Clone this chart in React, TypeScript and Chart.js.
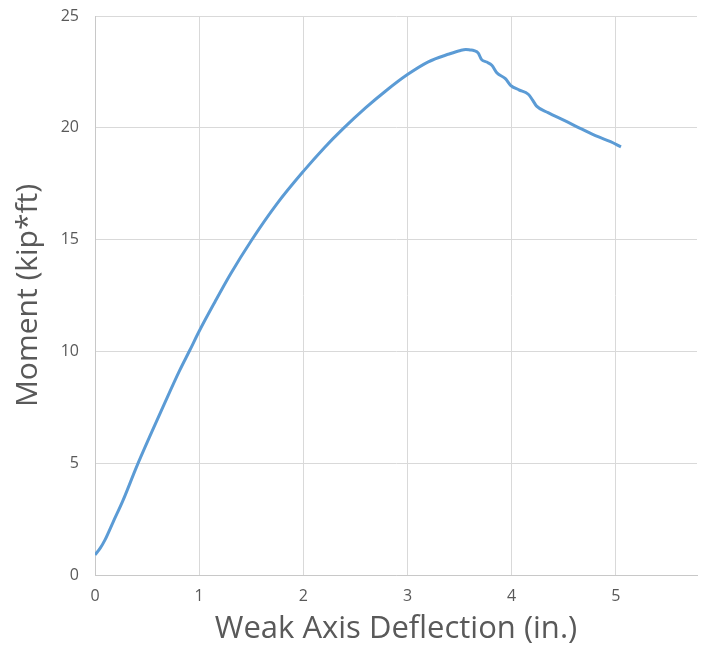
import React, { useEffect, useRef } from "react";
import { Chart, registerables } from "chart.js";

Chart.register(...registerables);

const deflection = [
  0, 0.05, 0.096, 0.175, 0.27, 0.4, 0.526, 0.654, 0.813, 0.91, 1.0, 1.15, 1.3, 1.5, 1.75,
  2.0, 2.2, 2.38, 2.6, 2.8, 3.0, 3.2, 3.4, 3.51, 3.56, 3.6, 3.64, 3.68, 3.71, 3.76, 3.81,
  3.86, 3.94, 3.99, 4.07, 4.16, 4.2, 4.24, 4.35, 4.51, 4.67, 4.83, 4.95, 5.05,
];
const moment = [
  0.9, 1.2, 1.57, 2.38, 3.35, 4.85, 6.2, 7.53, 9.15, 10.05, 10.9, 12.2, 13.45, 14.95, 16.62,
  18.05, 19.1, 19.95, 20.9, 21.68, 22.38, 22.95, 23.3, 23.46, 23.5, 23.48, 23.45, 23.34, 23.06,
  22.94, 22.8, 22.45, 22.2, 21.9, 21.7, 21.5, 21.25, 20.97, 20.68, 20.32, 19.95, 19.6, 19.38,
  19.15,
];
const xTicks = [0, 1, 2, 3, 4, 5];
const yTicks = [0, 5, 10, 15, 20, 25];

const FONT = "'Open Sans', sans-serif";

export default function App() {
  const ref = useRef<HTMLCanvasElement>(null);
  useEffect(() => {
    const ctx = ref.current!;
    const chart = new Chart(ctx, {
      type: "line",
      data: {
        datasets: [
          {
            data: deflection.map((x, i) => ({ x, y: moment[i] })),
            borderColor: "#5b9bd5",
            borderWidth: 3,
            pointRadius: 0,
            cubicInterpolationMode: "monotone",
            fill: false,
          },
        ],
      },
      options: {
        responsive: false,
        animation: false,
        layout: { padding: { left: 0, right: 7, top: 16, bottom: 0 } },
        plugins: { legend: { display: false }, tooltip: { enabled: false } },
        scales: {
          x: {
            type: "linear",
            min: 0,
            max: 5.78,
            afterBuildTicks: (s: any) => {
              s.ticks = xTicks.map((v) => ({ value: v }));
            },
            afterFit: (s: any) => {
              s.height = 75;
              s.paddingLeft = 0;
              s.paddingRight = 0;
            },
            ticks: { color: "#595959", font: { family: FONT, size: 16 }, padding: 12 },
            grid: { color: "#d9d9d9", lineWidth: 1, drawTicks: false },
            border: { color: "#c8c8c8", width: 1 },
            title: {
              display: true,
              text: "Weak Axis Deflection (in.)",
              color: "#595959",
              font: { family: FONT, size: 31 },
              padding: { top: 0, bottom: 2 },
            },
          },
          y: {
            type: "linear",
            min: 0,
            max: 25,
            afterBuildTicks: (s: any) => {
              s.ticks = yTicks.map((v) => ({ value: v }));
            },
            afterFit: (s: any) => {
              s.width = 95;
              s.paddingTop = 0;
              s.paddingBottom = 0;
            },
            ticks: { color: "#595959", font: { family: FONT, size: 16 }, padding: 16 },
            grid: { color: "#d9d9d9", lineWidth: 1, drawTicks: false },
            border: { color: "#c8c8c8", width: 1 },
            title: {
              display: true,
              text: "Moment (kip*ft)",
              color: "#595959",
              font: { family: FONT, size: 30 },
              padding: { top: 10, bottom: 0 },
            },
          },
        },
      },
    });
    return () => chart.destroy();
  }, []);
  return (
    <div style={{ position: "fixed", left: 0, top: 0, width: 704, height: 650, background: "#fff" }}>
      <canvas ref={ref} width={704} height={650} style={{ width: 704, height: 650 }} />
    </div>
  );
}
